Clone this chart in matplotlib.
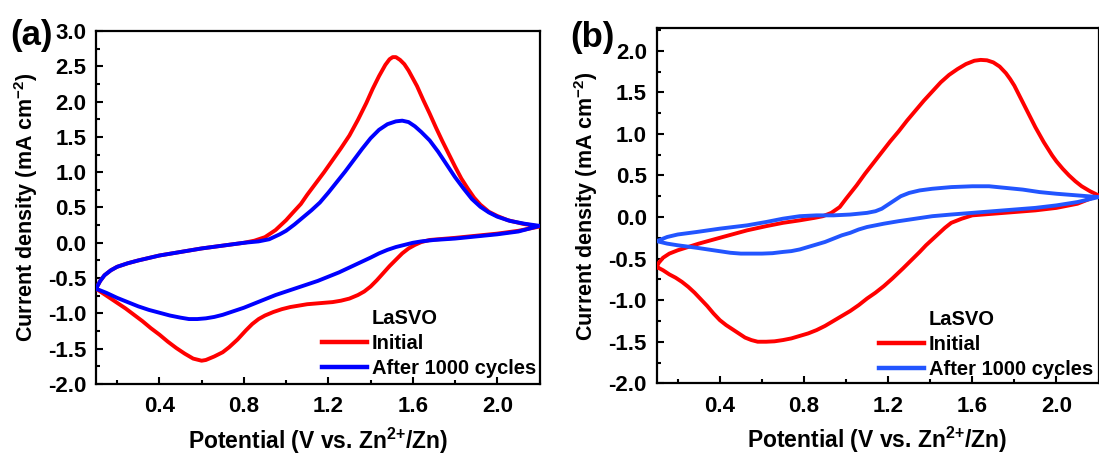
import matplotlib
matplotlib.use("Agg")
import matplotlib.pyplot as plt
from matplotlib.lines import Line2D
from matplotlib.ticker import MultipleLocator

plt.rcParams['font.family'] = ['Liberation Sans', 'DejaVu Sans']
plt.rcParams['font.weight'] = 'bold'
plt.rcParams['axes.unicode_minus'] = False
plt.rcParams['mathtext.fontset'] = 'custom'
plt.rcParams['mathtext.rm'] = 'Liberation Sans:bold'
plt.rcParams['mathtext.bf'] = 'Liberation Sans:bold'
plt.rcParams['mathtext.default'] = 'bf'

# ---------------- data (a) ----------------
pot_a_initial = [0.10, 0.12, 0.14, 0.17, 0.20, 0.25, 0.30, 0.40, 0.50, 0.60, 0.70, 0.80, 0.85, 0.90, 0.95,
                 1.00, 1.03, 1.07, 1.10, 1.14, 1.18, 1.22, 1.26, 1.30, 1.34, 1.38, 1.41, 1.44, 1.47,
                 1.49, 1.505, 1.52, 1.54, 1.56, 1.58, 1.60, 1.62, 1.65, 1.68, 1.71, 1.74, 1.77, 1.80,
                 1.83, 1.86, 1.89, 1.92, 1.96, 2.00, 2.05, 2.12, 2.20,
                 2.10, 2.00, 1.90, 1.80, 1.72, 1.68, 1.64, 1.61, 1.58, 1.55, 1.52, 1.49, 1.46, 1.43,
                 1.40, 1.37, 1.34, 1.30, 1.26, 1.22, 1.18, 1.14, 1.10, 1.06, 1.02, 0.98, 0.94, 0.90,
                 0.87, 0.84, 0.81, 0.77, 0.73, 0.70, 0.66, 0.62, 0.60, 0.56, 0.52, 0.48, 0.44, 0.40,
                 0.36, 0.32, 0.28, 0.24, 0.20, 0.16, 0.13, 0.10]
cur_a_initial = [-0.65, -0.54, -0.46, -0.39, -0.34, -0.29, -0.25, -0.18, -0.13, -0.08, -0.04, 0.00, 0.03, 0.08, 0.18,
                 0.32, 0.42, 0.55, 0.68, 0.84, 1.00, 1.17, 1.34, 1.52, 1.74, 1.98, 2.18, 2.36, 2.52,
                 2.60, 2.63, 2.63, 2.59, 2.53, 2.44, 2.33, 2.22, 2.02, 1.83, 1.63, 1.44, 1.26, 1.08,
                 0.91, 0.77, 0.64, 0.54, 0.44, 0.38, 0.32, 0.27, 0.23,
                 0.17, 0.13, 0.10, 0.07, 0.05, 0.04, 0.01, -0.03, -0.08, -0.15, -0.24, -0.33, -0.43, -0.53,
                 -0.62, -0.69, -0.74, -0.79, -0.82, -0.84, -0.85, -0.86, -0.87, -0.89, -0.91, -0.94, -0.98, -1.03,
                 -1.08, -1.15, -1.24, -1.37, -1.48, -1.55, -1.61, -1.66, -1.67, -1.64, -1.57, -1.49, -1.40, -1.30,
                 -1.21, -1.11, -1.02, -0.93, -0.85, -0.77, -0.71, -0.65]

pot_a_cycled = [0.10, 0.12, 0.14, 0.17, 0.20, 0.25, 0.30, 0.40, 0.50, 0.60, 0.70, 0.80, 0.87, 0.92, 0.97,
                1.00, 1.04, 1.08, 1.12, 1.16, 1.20, 1.24, 1.28, 1.32, 1.36, 1.40, 1.44, 1.48, 1.52,
                1.55, 1.58, 1.61, 1.64, 1.68, 1.72, 1.76, 1.80, 1.84, 1.88, 1.92, 1.96, 2.00, 2.06,
                2.13, 2.20,
                2.10, 2.00, 1.90, 1.80, 1.70, 1.64, 1.60, 1.56, 1.52, 1.48, 1.44, 1.40, 1.35, 1.30,
                1.25, 1.20, 1.15, 1.10, 1.05, 1.00, 0.95, 0.90, 0.85, 0.80, 0.75, 0.70, 0.66, 0.62,
                0.58, 0.54, 0.50, 0.45, 0.40, 0.35, 0.30, 0.25, 0.20, 0.15, 0.10]
cur_a_cycled = [-0.65, -0.54, -0.46, -0.39, -0.34, -0.29, -0.25, -0.18, -0.13, -0.08, -0.04, 0.00, 0.02, 0.05, 0.12,
                0.17, 0.26, 0.36, 0.46, 0.57, 0.71, 0.86, 1.01, 1.17, 1.33, 1.48, 1.60, 1.68, 1.72,
                1.73, 1.71, 1.65, 1.57, 1.45, 1.29, 1.11, 0.93, 0.77, 0.62, 0.51, 0.43, 0.37, 0.31,
                0.27, 0.24,
                0.16, 0.12, 0.09, 0.06, 0.04, 0.02, 0.00, -0.03, -0.06, -0.10, -0.15, -0.21, -0.28, -0.35,
                -0.42, -0.48, -0.54, -0.59, -0.64, -0.69, -0.74, -0.80, -0.86, -0.92, -0.97, -1.02, -1.05, -1.07,
                -1.08, -1.08, -1.06, -1.03, -0.99, -0.95, -0.90, -0.84, -0.78, -0.71, -0.65]

# ---------------- data (b) ----------------
pot_b_initial = [0.10, 0.11, 0.13, 0.16, 0.20, 0.25, 0.30, 0.40, 0.53, 0.62, 0.70, 0.78, 0.85, 0.89, 0.93,
                 0.97, 1.00, 1.05, 1.09, 1.13, 1.17, 1.21, 1.25, 1.29, 1.33, 1.37, 1.41, 1.45, 1.49,
                 1.53, 1.57, 1.61, 1.64, 1.67, 1.70, 1.73, 1.76, 1.78, 1.80, 1.82, 1.84, 1.86, 1.88,
                 1.90, 1.92, 1.94, 1.96, 1.98, 2.00, 2.03, 2.06, 2.09, 2.12, 2.16, 2.20,
                 2.10, 2.00, 1.90, 1.80, 1.70, 1.60, 1.55, 1.50, 1.47, 1.44, 1.41, 1.38, 1.35, 1.31,
                 1.27, 1.22, 1.18, 1.14, 1.10, 1.06, 1.02, 0.98, 0.94, 0.90, 0.86, 0.82, 0.78, 0.74,
                 0.70, 0.66, 0.62, 0.58, 0.55, 0.52, 0.49, 0.46, 0.43, 0.40, 0.37, 0.34, 0.31, 0.28,
                 0.25, 0.22, 0.19, 0.16, 0.13, 0.10]
cur_b_initial = [-0.60, -0.55, -0.49, -0.44, -0.40, -0.36, -0.32, -0.25, -0.16, -0.11, -0.07, -0.04, -0.01, 0.01, 0.05,
                 0.12, 0.22, 0.38, 0.52, 0.65, 0.78, 0.91, 1.03, 1.16, 1.28, 1.40, 1.51, 1.62, 1.71,
                 1.78, 1.84, 1.88, 1.89, 1.885, 1.86, 1.81, 1.73, 1.66, 1.58, 1.48, 1.38, 1.28, 1.18,
                 1.08, 0.99, 0.90, 0.82, 0.74, 0.67, 0.58, 0.50, 0.43, 0.37, 0.31, 0.26,
                 0.16, 0.11, 0.08, 0.06, 0.04, 0.02, -0.02, -0.07, -0.13, -0.20, -0.27, -0.34, -0.42, -0.52,
                 -0.62, -0.74, -0.83, -0.91, -0.98, -1.06, -1.13, -1.19, -1.25, -1.31, -1.36, -1.40, -1.43, -1.46,
                 -1.48, -1.495, -1.50, -1.50, -1.48, -1.45, -1.40, -1.35, -1.30, -1.24, -1.16, -1.07, -0.99, -0.91,
                 -0.84, -0.78, -0.73, -0.69, -0.64, -0.60]

pot_b_cycled = [0.10, 0.15, 0.20, 0.29, 0.40, 0.53, 0.62, 0.70, 0.78, 0.86, 0.94, 1.02, 1.10, 1.14,
                1.17, 1.20, 1.23, 1.26, 1.30, 1.35, 1.41, 1.50, 1.60, 1.68, 1.76, 1.84, 1.92, 2.00,
                2.10, 2.20,
                2.10, 2.00, 1.90, 1.80, 1.70, 1.60, 1.50, 1.41, 1.33, 1.25, 1.18, 1.10, 1.06, 1.02,
                0.98, 0.94, 0.90, 0.86, 0.82, 0.78, 0.74, 0.70, 0.65, 0.60, 0.55, 0.50, 0.45, 0.37,
                0.29, 0.20, 0.15, 0.10]
cur_b_cycled = [-0.29, -0.24, -0.21, -0.18, -0.14, -0.10, -0.06, -0.02, 0.01, 0.02, 0.02, 0.03, 0.05, 0.07,
                0.10, 0.15, 0.20, 0.25, 0.29, 0.32, 0.34, 0.36, 0.37, 0.37, 0.35, 0.33, 0.30, 0.28,
                0.26, 0.24,
                0.18, 0.14, 0.11, 0.09, 0.07, 0.05, 0.03, 0.01, -0.02, -0.05, -0.08, -0.12, -0.15, -0.19,
                -0.22, -0.26, -0.30, -0.33, -0.36, -0.39, -0.41, -0.42, -0.435, -0.44, -0.44, -0.44, -0.43, -0.40,
                -0.37, -0.34, -0.32, -0.29]

x_ticks = [0.4, 0.8, 1.2, 1.6, 2.0]
legend_title = "LaSVO"
series_labels = ["Initial", "After 1000 cycles"]
panel_labels = ["(a)", "(b)"]

W, H = 1099, 455
fig = plt.figure(figsize=(W / 100, H / 100), dpi=100)


def px_axes(l, t, r, b):
    return fig.add_axes([l / W, 1 - b / H, (r - l) / W, (b - t) / H])


ax_a = px_axes(96, 31, 539.5, 384)
ax_b = px_axes(656.7, 28.3, 1098.5, 383.3)

panels = [
    (ax_a, pot_a_initial, cur_a_initial, pot_a_cycled, cur_a_cycled, '#FF0000', '#0000FF',
     (-2.0, 3.0), (536, 373)),
    (ax_b, pot_b_initial, cur_b_initial, pot_b_cycled, cur_b_cycled, '#FF0000', '#2255FF',
     (-2.0, 2.27), (1093, 374)),
]

for i, (ax, px1, cy1, px2, cy2, c1, c2, ylim, leg_px) in enumerate(panels):
    ax.plot(px1, cy1, color=c1, lw=2.8, solid_joinstyle='round', zorder=3)
    ax.plot(px2, cy2, color=c2, lw=2.8, solid_joinstyle='round', zorder=4)
    ax.set_xlim(0.1, 2.2)
    ax.set_ylim(*ylim)
    ax.set_xticks(x_ticks)
    ax.xaxis.set_minor_locator(MultipleLocator(0.2))
    ax.yaxis.set_major_locator(MultipleLocator(0.5))
    ax.yaxis.set_minor_locator(MultipleLocator(0.25))
    ax.tick_params(which='both', direction='in', width=1.5, labelsize=16)
    ax.tick_params(axis='x', pad=9)
    ax.tick_params(axis='y', pad=7)
    ax.tick_params(which='major', length=5)
    ax.tick_params(which='minor', length=3)
    for lab in ax.get_xticklabels() + ax.get_yticklabels():
        lab.set_fontweight('bold')
    for s in ax.spines.values():
        s.set_linewidth(1.6)
    ax.set_xlabel("Potential (V vs. Zn$^{2{+}}$/Zn)", fontsize=16.5, fontweight='bold', labelpad=6)
    ax.set_ylabel("Current density (mA cm$^{-2}$)", fontsize=15.5, fontweight='bold', labelpad=6)

    handles = [Line2D([], [], color='none', lw=0),
               Line2D([], [], color=c1, lw=3.2),
               Line2D([], [], color=c2, lw=3.2)]
    labels = [legend_title] + series_labels
    bx = leg_px[0] / W
    by = 1 - (leg_px[1] + 5) / H
    ax.legend(handles, labels, loc='lower right', bbox_to_anchor=(bx, by),
              bbox_transform=fig.transFigure, frameon=False,
              prop={'size': 14.5, 'weight': 'bold'}, handlelength=2.2,
              handletextpad=0.25, labelspacing=0.3, borderpad=0, borderaxespad=0)

fig.text(31 / W, 1 - 35 / H, panel_labels[0], fontsize=25, fontweight='bold', ha='center', va='center')
fig.text(592 / W, 1 - 37 / H, panel_labels[1], fontsize=25, fontweight='bold', ha='center', va='center')

fig.savefig("out.png", dpi=100)
